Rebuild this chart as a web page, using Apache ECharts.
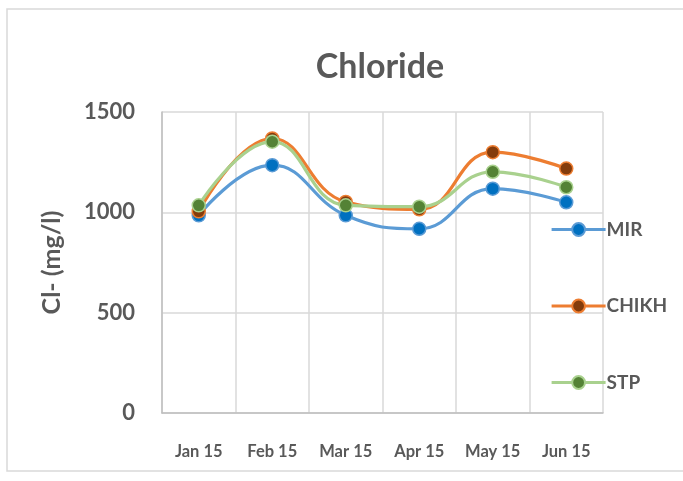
<!DOCTYPE html>
<html lang="en">
<head>
  <meta charset="UTF-8">
  <title>Chloride</title>
  <style>
    html, body { margin: 0; padding: 0; background: #fff; }
    #main { width: 683px; height: 481px; }
  </style>
</head>
<body>
<div id="main"></div>
<script src="https://cdn.jsdelivr.net/npm/echarts@6/dist/echarts.min.js"></script>
<script>
  // data
  const months = ['Jan 15', 'Feb 15', 'Mar 15', 'Apr 15', 'May 15', 'Jun 15'];
  const mir = [985, 1235, 985, 918, 1118, 1050];
  const chikh = [1005, 1368, 1052, 1015, 1300, 1218];
  const stp = [1035, 1352, 1035, 1028, 1202, 1125];
  const yTicks = [0, 500, 1000, 1500];

  const font = 'Lato, "Open Sans", sans-serif';
  const grey = '#595959';

  function line(name, data, lineColor, dotColor) {
    return {
      name: name,
      type: 'line',
      data: data,
      smooth: 0.45,
      symbol: 'circle',
      symbolSize: 13,
      lineStyle: { color: lineColor, width: 3.2 },
      itemStyle: { color: dotColor, borderColor: lineColor, borderWidth: 1.5 },
      emphasis: { disabled: true }
    };
  }

  let chart = echarts.init(document.getElementById('main'));
  chart.setOption({
    animation: false,
    backgroundColor: '#fff',
    title: {
      text: 'Chloride',
      left: 375,
      top: 45,
      textAlign: 'center',
      textStyle: { fontFamily: font, fontSize: 34, fontWeight: 'bold', color: grey }
    },
    legend: {
      orient: 'vertical',
      left: 545,
      top: 215,
      itemGap: 57.5,
      itemWidth: 54,
      itemHeight: 16,
      lineStyle: { width: 3.2 },
      textStyle: { fontFamily: font, fontSize: 19, fontWeight: 'bold', color: grey, padding: [0, 0, 0, -4] },
      data: ['MIR', 'CHIKH', 'STP']
    },
    grid: { left: 162, right: 80, top: 112, bottom: 68 },
    xAxis: {
      type: 'category',
      data: months,
      axisLine: { lineStyle: { color: '#bfbfbf', width: 1.5 } },
      axisTick: { show: false, interval: 0 },
      splitLine: { show: true, interval: 0, lineStyle: { color: '#d9d9d9', width: 1.5 } },
      axisLabel: { interval: 0, fontFamily: font, fontSize: 16.5, fontWeight: 'bold', color: grey, margin: 30 }
    },
    yAxis: {
      type: 'value',
      min: yTicks[0],
      max: yTicks[yTicks.length - 1],
      interval: 500,
      name: 'Cl- (mg/l)',
      nameLocation: 'middle',
      nameGap: 98,
      nameTextStyle: { fontFamily: font, fontSize: 25, fontWeight: 'bold', color: grey },
      axisLine: { show: true, lineStyle: { color: '#bfbfbf', width: 1.5 } },
      axisTick: { show: false },
      splitLine: { lineStyle: { color: '#d9d9d9', width: 1.5 } },
      axisLabel: {
        fontFamily: font, fontSize: 22, fontWeight: 'bold', color: grey, margin: 27,
        formatter: v => String(v)
      }
    },
    series: [
      line('MIR', mir, '#5b9bd5', '#0070c0'),
      line('CHIKH', chikh, '#ed7d31', '#843c0c'),
      line('STP', stp, '#a9d18e', '#548235')
    ],
    graphic: [{
      type: 'rect',
      shape: { x: 7, y: 9, width: 690, height: 462 },
      style: { fill: 'none', stroke: '#d9d9d9', lineWidth: 1.5 },
      silent: true
    }]
  });
</script>
</body>
</html>
